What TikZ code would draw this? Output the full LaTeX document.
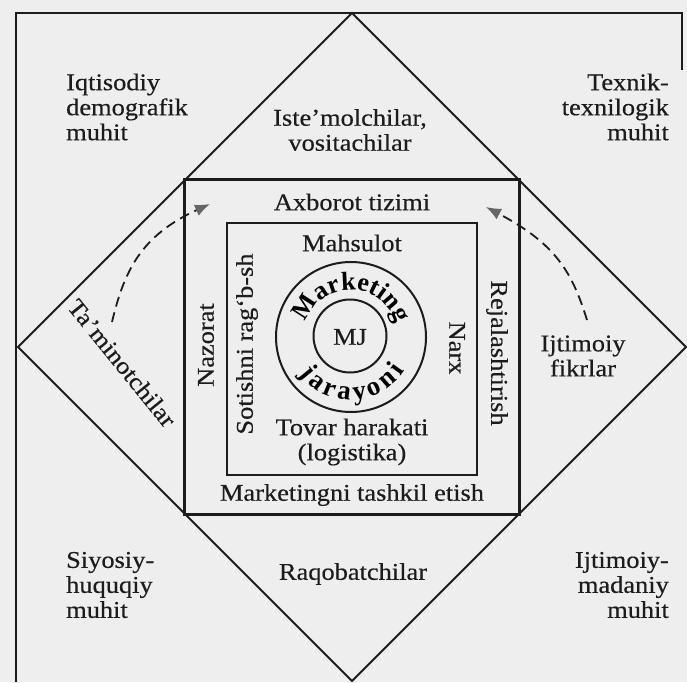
\documentclass[tikz,border=0pt]{standalone}
\usepackage{fontspec}
\setmainfont{Liberation Serif}[FakeStretch=1.1,FakeBold=0.4]
\newfontfamily\arcfont{Liberation Serif Bold}
\usetikzlibrary{arrows.meta,decorations.text}
\definecolor{ink}{HTML}{1C1C1C}
\definecolor{paper}{HTML}{EEEEEE}
\definecolor{tipgray}{HTML}{666666}
\begin{document}
\begin{tikzpicture}[x=1pt,y=1pt,
  lbl/.style={font=\fontsize{24}{25}\selectfont, align=center, inner sep=0pt, text=ink},
  lblL/.style={lbl, align=left, anchor=west},
  lblR/.style={lbl, align=right, anchor=east},
  frame/.style={draw=ink, line width=1.8pt},
  boxline/.style={draw=ink, line width=2.2pt},
  ring/.style={draw=ink, line width=2pt},
  darr/.style={draw=ink, line width=1.8pt, dash pattern=on 10pt off 6pt,
    -{Latex[length=15pt,width=12pt,color=tipgray]}}
]
\useasboundingbox (0,0) rectangle (687,-682);
\fill[paper] (0,0) rectangle (687,-682);

% outer frame
\draw[frame] (682,-70) -- (682,-13) -- (16,-13) -- (16,-682);

% diamond
\draw[frame] (352,-13) -- (686,-347) -- (352,-681) -- (18,-347) -- cycle;

% middle square (filled so the diamond edges stop at it)
\node[boxline, fill=paper, minimum width=335pt, minimum height=335pt, inner sep=0pt] (mid) at (352,-347) {};
% inner square
\node[boxline, minimum width=250pt, minimum height=252pt, inner sep=0pt] (inner) at (352,-349) {};

% circles
\node[ring, circle, minimum size=150pt, inner sep=0pt] (outerc) at (351,-337) {};
\node[ring, circle, minimum size=73pt, inner sep=0pt] (innerc) at (350,-336) {};
\node[lbl] (mj) at (350,-337) {MJ};

% arc texts
\path[decorate, decoration={text along path, text align={fit to path},
  text={|\arcfont\fontsize{26}{28}\selectfont|Marketing}}]
  (351,-337) ++(162:47) arc[start angle=162, end angle=16, radius=47];
\path[decorate, decoration={text along path, text align={fit to path},
  text={|\arcfont\fontsize{27}{29}\selectfont|jarayoni}}]
  (351,-337) ++(215:63) arc[start angle=215, end angle=328, radius=63];

% outer labels
\node[lblL] (iqt) at (66,-107) {Iqtisodiy\\demografik\\muhit};
\node[lbl] (iste) at (350,-130) {Iste’molchilar,\\vositachilar};
\node[lblR] (tex) at (669,-107) {Texnik-\\texnilogik\\muhit};
\node[lblL] (siy) at (66,-585) {Siyosiy-\\huquqiy\\muhit};
\node[lbl] (raq) at (353,-574) {Raqobatchilar};
\node[lblR] (ijm) at (669,-585) {Ijtimoiy-\\madaniy\\muhit};
\node[lbl, rotate=-51] (tam) at (122,-363) {Ta’minotchilar};
\node[lbl] (ijf) at (583,-356) {Ijtimoiy\\fikrlar};

% middle ring labels
\node[lbl] (axb) at (352,-202) {Axborot tizimi};
\node[lbl] (mte) at (352,-495) {Marketingni tashkil etish};
\node[lbl, rotate=90] (naz) at (206,-345) {Nazorat};
\node[lbl, rotate=-90] (rej) at (497,-353) {Rejalashtirish};

% inner square labels
\node[lbl] (mah) at (352,-243) {Mahsulot};
\node[lbl] (tov) at (352,-442) {Tovar harakati\\(logistika)};
\node[lbl, rotate=90] (sot) at (247,-344) {Sotishni rag‘b-sh};
\node[lbl, rotate=-90] (narx) at (457,-348) {Narx};

% dashed arrows
\coordinate (la0) at (112,-322);
\coordinate (la1) at (210,-204);
\coordinate (ra0) at (587,-320);
\coordinate (ra1) at (486,-207);
\draw[darr] (la0) .. controls (124,-272) and (140,-236) .. (la1);
\draw[darr] (ra0) .. controls (572,-272) and (556,-244) .. (ra1);
\end{tikzpicture}
\end{document}
